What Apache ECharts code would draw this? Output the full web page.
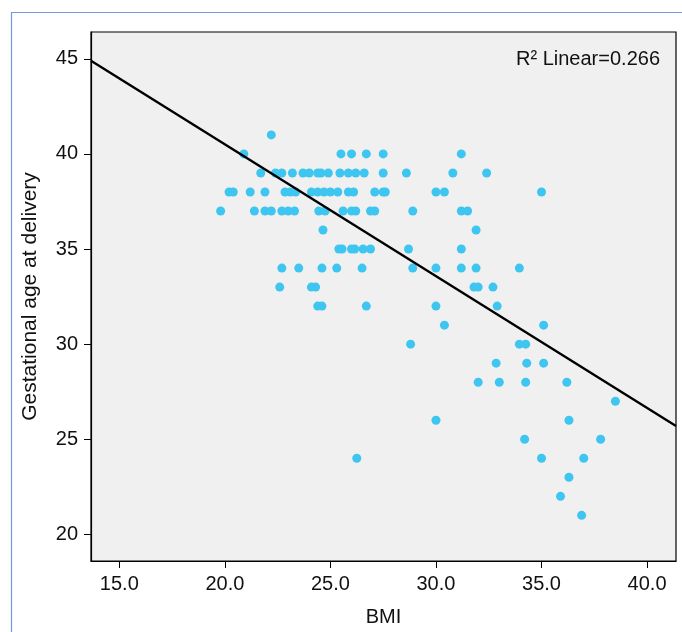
<!DOCTYPE html>
<html>
<head>
<meta charset="utf-8">
<script src="https://cdn.jsdelivr.net/npm/echarts@6/dist/echarts.min.js"></script>
<style>
html,body{margin:0;padding:0;background:#fff;}
#chart{width:682px;height:632px;}
</style>
</head>
<body>
<div id="chart"></div>
<script>
// Gestational age levels and the BMI values observed at each level
const gaLevels = [41, 40, 39, 38, 37, 36, 35, 34, 33, 32, 31, 30, 29, 28, 27, 26, 25, 24, 23, 22, 21];
const bmiAtLevel = [
  [22.2],
  [20.9, 25.5, 26.0, 26.7, 27.5, 31.2],
  [21.7, 22.4, 22.7, 23.2, 23.7, 24.0, 24.4, 24.55, 24.9, 25.45, 25.85, 26.2, 26.6, 27.5, 28.6, 30.8, 32.4],
  [20.2, 20.4, 21.2, 21.9, 22.85, 23.1, 23.35, 24.1, 24.4, 24.7, 25.0, 25.35, 25.85, 26.1, 27.1, 27.5, 27.6, 30.0, 30.4, 35.0],
  [19.8, 21.4, 21.9, 22.2, 22.7, 23.0, 23.3, 24.45, 24.75, 25.6, 26.0, 26.2, 26.9, 27.1, 28.9, 31.2, 31.5],
  [24.65, 31.9],
  [25.4, 25.55, 26.0, 26.15, 26.55, 26.9, 28.7, 31.2],
  [22.7, 23.5, 24.6, 25.3, 26.5, 28.9, 30.0, 31.2, 31.9, 33.95],
  [22.6, 24.1, 24.3, 31.8, 32.0, 32.7],
  [24.4, 24.6, 26.7, 30.0, 32.9],
  [30.4, 35.1],
  [28.8, 33.95, 34.25],
  [32.85, 34.3, 35.1],
  [32.0, 33.0, 34.25, 36.2],
  [38.5],
  [30.0, 36.3],
  [34.2, 37.8],
  [26.25, 35.0, 37.0],
  [36.3],
  [35.9],
  [36.9]
];
// Fit line
const fitIntercept = 54.37;
const fitSlope = -0.693;
const xTicks = [15, 20, 25, 30, 35, 40];
const yTicks = [20, 25, 30, 35, 40, 45];
const xRange = [13.66, 41.37];
const yRange = [18.6, 46.41];
const r2Text = 'R\u00B2 Linear=0.266';
const xTitle = 'BMI';
const yTitle = 'Gestational age at delivery';

const points = [];
gaLevels.forEach((ga, i) => bmiAtLevel[i].forEach(b => points.push([b, ga])));
const fitLine = xRange.map(x => [x, fitIntercept + fitSlope * x]);

const chart = echarts.init(document.getElementById('chart'), null, {renderer: 'canvas'});
const font = 'Liberation Sans, Arial, Helvetica, sans-serif';
chart.setOption({
  backgroundColor: '#ffffff',
  animation: false,
  graphic: [
    {type: 'rect', left: 9, top: 10, shape: {x: 0, y: 0, width: 700, height: 700},
     style: {fill: 'none', stroke: '#6f9bd6', lineWidth: 1.2}, silent: true, z: -1},
    {type: 'text', right: 22, top: 49, style: {text: r2Text, font: '20px ' + font, fill: '#111'}}
  ],
  grid: {left: 91, top: 32, right: 6, bottom: 68, show: true, backgroundColor: '#f0f0f0', borderColor: '#000', borderWidth: 1.2},
  xAxis: {
    type: 'value', min: xRange[0], max: xRange[1],
    name: xTitle, nameLocation: 'middle', nameGap: 46,
    nameTextStyle: {fontSize: 20, color: '#111', fontFamily: font},
    axisLine: {show: true, onZero: false, lineStyle: {color: '#000', width: 1.2}},
    axisTick: {show: true, length: 7, customValues: xTicks, lineStyle: {color: '#000'}},
    axisLabel: {customValues: xTicks, formatter: v => v.toFixed(1), fontSize: 20, color: '#111', fontFamily: font, margin: 13},
    splitLine: {show: false}
  },
  yAxis: {
    type: 'value', min: yRange[0], max: yRange[1],
    name: yTitle, nameLocation: 'middle', nameGap: 50,
    nameTextStyle: {fontSize: 21, color: '#111', fontFamily: font},
    axisLine: {show: true, onZero: false, lineStyle: {color: '#000', width: 1.2}},
    axisTick: {show: true, length: 7, customValues: yTicks, lineStyle: {color: '#000'}},
    axisLabel: {customValues: yTicks, fontSize: 20, color: '#111', fontFamily: font, margin: 13},
    splitLine: {show: false}
  },
  series: [
    {type: 'scatter', data: points, symbolSize: 9, itemStyle: {color: '#3ec6f1', opacity: 1}, z: 2},
    {type: 'line', data: fitLine, symbol: 'none', lineStyle: {color: '#000', width: 2.4}, clip: true, z: 3}
  ]
});
</script>
</body>
</html>
